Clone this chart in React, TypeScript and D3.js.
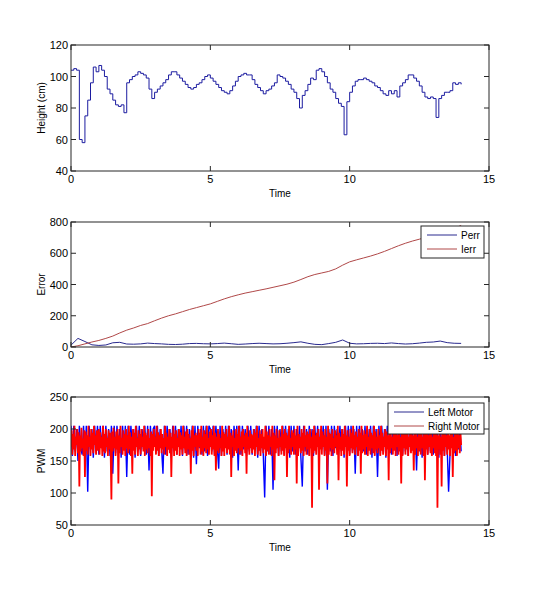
import * as d3 from 'd3'

const END_TIME = 14

const heightCm = [
  104, 105, 104, 60, 58, 75, 85, 96, 106, 103,
  107, 104, 100, 92, 89, 85, 82, 81, 82, 77,
  96, 98, 100, 101, 103, 102, 101, 99, 92, 86,
  90, 92, 94, 96, 98, 101, 103, 103, 101, 99,
  97, 95, 93, 92, 93, 95, 96, 98, 100, 101,
  99, 97, 95, 93, 91, 90, 89, 91, 94, 97,
  100, 101, 102, 101, 101, 98, 95, 93, 91, 89,
  91, 92, 94, 96, 101, 100, 99, 97, 95, 92,
  90, 86, 80, 88, 91, 95, 99, 98, 104, 105,
  103, 100, 96, 92, 90, 86, 83, 81, 63, 84,
  90, 94, 97, 98, 98, 99, 98, 97, 96, 94,
  93, 91, 89, 88, 91, 89, 91, 87, 94, 96,
  98, 101, 101, 99, 97, 94, 90, 87, 86, 87,
  86, 74, 86, 88, 90, 90, 91, 96, 95, 96,
  95,
]

const perr = [
  12, 55, 35, 14, 10, 13, 27, 30, 19, 18, 20, 25, 22, 20, 17, 16, 18, 22, 23, 21,
  20, 22, 25, 21, 17, 19, 22, 24, 22, 20, 21, 24, 28, 33, 24, 17, 15, 22, 30, 45,
  24, 20, 21, 23, 24, 22, 26, 22, 19, 21, 25, 30, 32, 38, 28, 24, 23,
]
const ierr = [
  0, 8, 20, 32, 42, 55, 70, 90, 108, 122, 138, 150, 168, 185, 200, 212, 226, 240, 252, 264,
  276, 292, 308, 322, 334, 345, 354, 363, 372, 382, 392, 402, 415, 432, 450, 464, 474, 484, 500, 524,
  545, 558, 570, 582, 596, 612, 630, 648, 664, 678, 690, 702, 716, 730, 745, 760, 778,
]

const leftMotor = [
  205, 158, 205, 165, 200, 150, 205, 170, 160, 205, 155, 205, 102, 205, 168, 200, 155, 205, 165, 205,
  160, 205, 170, 205, 155, 205, 165, 200, 158, 205, 130, 205, 162, 205, 170, 200, 155, 205, 168, 205,
  125, 205, 160, 205, 170, 200, 155, 205, 165, 205, 158, 200, 168, 205, 160, 205, 135, 205, 162, 200,
  205, 165, 205, 158, 200, 170, 130, 205, 160, 205, 168, 200, 155, 205, 165, 205, 160, 200, 170, 205,
  158, 205, 168, 205, 160, 200, 165, 205, 155, 205, 145, 205, 170, 200, 160, 205, 165, 205, 158, 205,
  200, 165, 205, 160, 205, 170, 138, 205, 158, 200, 168, 205, 160, 205, 165, 200, 155, 205, 170, 205,
  135, 205, 160, 205, 168, 200, 158, 205, 165, 205, 160, 200, 170, 205, 155, 205, 165, 200, 160, 93,
  205, 165, 205, 160, 200, 105, 205, 168, 205, 158, 200, 165, 205, 160, 205, 170, 200, 155, 205, 165,
  205, 160, 200, 168, 205, 155, 110, 205, 165, 200, 160, 205, 170, 200, 158, 205, 165, 205, 160, 200,
  168, 205, 160, 205, 105, 200, 165, 205, 158, 205, 170, 200, 160, 205, 165, 200, 155, 205, 168, 205,
  160, 205, 165, 200, 130, 205, 158, 205, 170, 200, 165, 205, 160, 200, 168, 205, 155, 205, 165, 200,
  125, 205, 160, 205, 168, 200, 155, 205, 165, 205, 160, 200, 170, 205, 158, 205, 165, 200, 160, 205,
  165, 205, 158, 205, 170, 200, 160, 205, 135, 205, 165, 200, 155, 205, 168, 205, 160, 200, 165, 205,
  160, 205, 168, 200, 155, 205, 165, 205, 158, 200, 170, 102, 160, 205, 165, 200, 158, 205, 168, 205,
  165,
]
const rightMotor = [
  172, 198, 160, 192, 168, 205, 158, 188, 175, 200, 162, 195, 110, 190, 165, 202, 170, 185, 158, 198,
  125, 196, 166, 190, 160, 205, 172, 188, 158, 200, 168, 194, 162, 205, 175, 190, 160, 198, 166, 188,
  200, 160, 195, 170, 188, 158, 205, 165, 192, 162, 200, 172, 186, 158, 198, 168, 194, 160, 90, 196,
  165, 202, 170, 188, 158, 196, 168, 200, 115, 190, 162, 205, 172, 186, 160, 198, 166, 192, 158, 200,
  170, 190, 162, 205, 168, 195, 158, 188, 130, 200, 166, 194, 160, 205, 172, 186, 158, 198, 168, 192,
  160, 200, 172, 188, 165, 205, 158, 194, 168, 190, 162, 200, 170, 186, 158, 196, 95, 192, 166, 200,
  172, 188, 160, 205, 166, 195, 158, 190, 170, 200, 162, 192, 168, 186, 160, 205, 172, 194, 158, 188,
  168, 200, 162, 194, 125, 188, 170, 205, 158, 192, 166, 198, 160, 186, 172, 200, 158, 195, 168, 190,
  160, 205, 170, 188, 162, 196, 158, 200, 168, 192, 160, 186, 130, 198, 166, 205, 158, 190, 172, 194,
  166, 190, 158, 200, 172, 194, 160, 205, 165, 188, 158, 198, 170, 192, 162, 205, 168, 186, 160, 196,
  172, 200, 160, 190, 168, 205, 158, 194, 135, 188, 166, 200, 162, 192, 170, 186, 158, 205, 165, 195,
  158, 192, 170, 200, 162, 188, 168, 205, 160, 194, 125, 190, 172, 198, 158, 186, 166, 200, 162, 192,
  170, 205, 160, 188, 166, 196, 158, 200, 172, 190, 162, 194, 130, 205, 168, 188, 160, 198, 170, 192,
  162, 190, 168, 200, 158, 194, 172, 205, 160, 186, 166, 198, 158, 192, 170, 200, 162, 188, 168, 205,
  158, 196, 166, 190, 160, 200, 172, 188, 158, 205, 168, 194, 120, 190, 162, 200, 170, 186, 158, 198,
  172, 188, 160, 205, 166, 192, 158, 200, 170, 194, 125, 190, 162, 205, 168, 186, 160, 198, 172, 194,
  160, 200, 168, 190, 115, 205, 158, 192, 170, 188, 162, 200, 166, 194, 158, 205, 172, 190, 160, 196,
  168, 192, 158, 200, 170, 188, 77, 198, 162, 205, 166, 190, 160, 194, 172, 200, 105, 188, 168, 205,
  160, 196, 172, 190, 158, 200, 166, 188, 115, 205, 160, 194, 170, 192, 158, 200, 168, 186, 162, 198,
  172, 190, 160, 205, 120, 194, 168, 188, 158, 200, 166, 192, 160, 205, 172, 190, 110, 198, 166, 188,
  158, 200, 170, 194, 162, 205, 168, 190, 160, 196, 172, 188, 158, 200, 166, 194, 130, 205, 162, 190,
  168, 198, 160, 192, 172, 205, 158, 188, 166, 200, 160, 194, 170, 190, 162, 205, 158, 196, 168, 188,
  162, 200, 170, 190, 158, 205, 166, 194, 160, 188, 172, 200, 158, 196, 168, 190, 120, 205, 162, 192,
  170, 188, 160, 200, 166, 194, 158, 205, 172, 190, 160, 198, 166, 188, 115, 200, 158, 194, 170, 205,
  160, 192, 168, 200, 158, 188, 172, 205, 162, 194, 166, 190, 135, 200, 160, 198, 170, 188, 158, 205,
  166, 194, 160, 200, 170, 188, 158, 205, 120, 192, 168, 198, 160, 190, 172, 200, 162, 194, 158, 188,
  170, 205, 162, 192, 158, 200, 77, 190, 168, 196, 160, 188, 110, 205, 166, 194, 158, 200, 172, 190,
  160, 198, 168, 190, 158, 205, 170, 194, 125, 188, 162, 200, 166, 192, 158, 205, 170, 190, 162, 196,
  175,
]

const xTicks = [0, 5, 10, 15]
const heightTicks = [40, 60, 80, 100, 120]
const errorTicks = [0, 200, 400, 600, 800]
const pwmTicks = [50, 100, 150, 200, 250]

const X0 = 71
const X1 = 489
const FONT = 'Arial, "Liberation Sans", sans-serif'
const FS = 10
const AXIS = '#262626'

type Series = { values: number[]; color: string; width?: number; step?: boolean }
type LegendItem = { label: string; color: string }

const Panel = ({
  id,
  top,
  bottom,
  yDomain,
  yTicks,
  yLabel,
  series,
  legend,
  legendBox,
}: {
  id: string
  top: number
  bottom: number
  yDomain: [number, number]
  yTicks: number[]
  yLabel: string
  series: Series[]
  legend?: LegendItem[]
  legendBox?: { x: number; y: number; w: number; h: number; row: number }
}) => {
  const x = d3.scaleLinear().domain([0, 15]).range([X0, X1])
  const y = d3.scaleLinear().domain(yDomain).range([bottom, top])
  const tick = 5

  return (
    <g>
      <clipPath id={id}>
        <rect x={X0} y={top} width={X1 - X0} height={bottom - top} />
      </clipPath>
      <rect x={X0} y={top} width={X1 - X0} height={bottom - top} fill="#fff" />
      <g clipPath={`url(#${id})`}>
        {series.map((s, i) => {
          const dt = END_TIME / (s.values.length - 1)
          const line = d3
            .line<number>()
            .x((_, j) => x(j * dt))
            .y((v) => y(v))
            .curve(s.step ? d3.curveStepAfter : d3.curveLinear)
          return (
            <path
              key={i}
              d={line(s.values) || ''}
              fill="none"
              stroke={s.color}
              strokeWidth={s.width ?? 1}
            />
          )
        })}
      </g>
      <rect x={X0} y={top} width={X1 - X0} height={bottom - top} fill="none" stroke={AXIS} strokeWidth={1} />
      {xTicks.map((t) => (
        <g key={'x' + t}>
          <line x1={x(t)} x2={x(t)} y1={bottom} y2={bottom - tick} stroke={AXIS} />
          <line x1={x(t)} x2={x(t)} y1={top} y2={top + tick} stroke={AXIS} />
          <text x={x(t)} y={bottom + 12} textAnchor="middle" fontSize={FS + 1} fontFamily={FONT} fill="#000">
            {t}
          </text>
        </g>
      ))}
      {yTicks.map((t) => (
        <g key={'y' + t}>
          <line x1={X0} x2={X0 + tick} y1={y(t)} y2={y(t)} stroke={AXIS} />
          <line x1={X1} x2={X1 - tick} y1={y(t)} y2={y(t)} stroke={AXIS} />
          <text
            x={X0 - 3}
            y={y(t) + 4}
            textAnchor="end"
            fontSize={FS + 1}
            fontFamily={FONT}
            fill="#000"
          >
            {t}
          </text>
        </g>
      ))}
      <text x={(X0 + X1) / 2} y={bottom + 26} textAnchor="middle" fontSize={FS} fontFamily={FONT}>
        Time
      </text>
      <text
        transform={`translate(45,${(top + bottom) / 2}) rotate(-90)`}
        textAnchor="middle"
        fontSize={FS}
        fontFamily={FONT}
      >
        {yLabel}
      </text>
      {legend && legendBox && (
        <g>
          <rect
            x={legendBox.x}
            y={legendBox.y}
            width={legendBox.w}
            height={legendBox.h}
            fill="#fff"
            stroke={AXIS}
          />
          {legend.map((item, i) => {
            const cy = legendBox.y + 9 + i * legendBox.row
            return (
              <g key={item.label}>
                <line
                  x1={legendBox.x + 6}
                  x2={legendBox.x + 36}
                  y1={cy}
                  y2={cy}
                  stroke={item.color}
                  strokeWidth={1}
                />
                <text x={legendBox.x + 40} y={cy + 4} fontSize={FS} fontFamily={FONT}>
                  {item.label}
                </text>
              </g>
            )
          })}
        </g>
      )}
    </g>
  )
}

const App = () => {
  return (
    <svg
      width={540}
      height={589}
      style={{ position: 'absolute', left: 0, top: 0, background: '#fff' }}
    >
      <rect width={540} height={589} fill="#fff" />
      <Panel
        id="c1"
        top={45}
        bottom={171}
        yDomain={[40, 120]}
        yTicks={heightTicks}
        yLabel="Height (cm)"
        series={[{ values: heightCm, color: '#1c1ca0', step: true }]}
      />
      <Panel
        id="c2"
        top={222}
        bottom={347}
        yDomain={[0, 800]}
        yTicks={errorTicks}
        yLabel="Error"
        series={[
          { values: perr, color: '#2a2a8f' },
          { values: ierr, color: '#b04848' },
        ]}
        legend={[
          { label: 'Perr', color: '#2a2a8f' },
          { label: 'Ierr', color: '#b04848' },
        ]}
        legendBox={{ x: 421, y: 226, w: 63, h: 32, row: 14 }}
      />
      <Panel
        id="c3"
        top={397}
        bottom={525}
        yDomain={[50, 250]}
        yTicks={pwmTicks}
        yLabel="PWM"
        series={[
          { values: leftMotor, color: '#0000ff', width: 1.4 },
          { values: rightMotor, color: '#ff0000', width: 1.8 },
        ]}
        legend={[
          { label: 'Left Motor', color: '#2a2a8f' },
          { label: 'Right Motor', color: '#b04848' },
        ]}
        legendBox={{ x: 388, y: 403, w: 96, h: 31, row: 14 }}
      />
    </svg>
  )
}

export default App
